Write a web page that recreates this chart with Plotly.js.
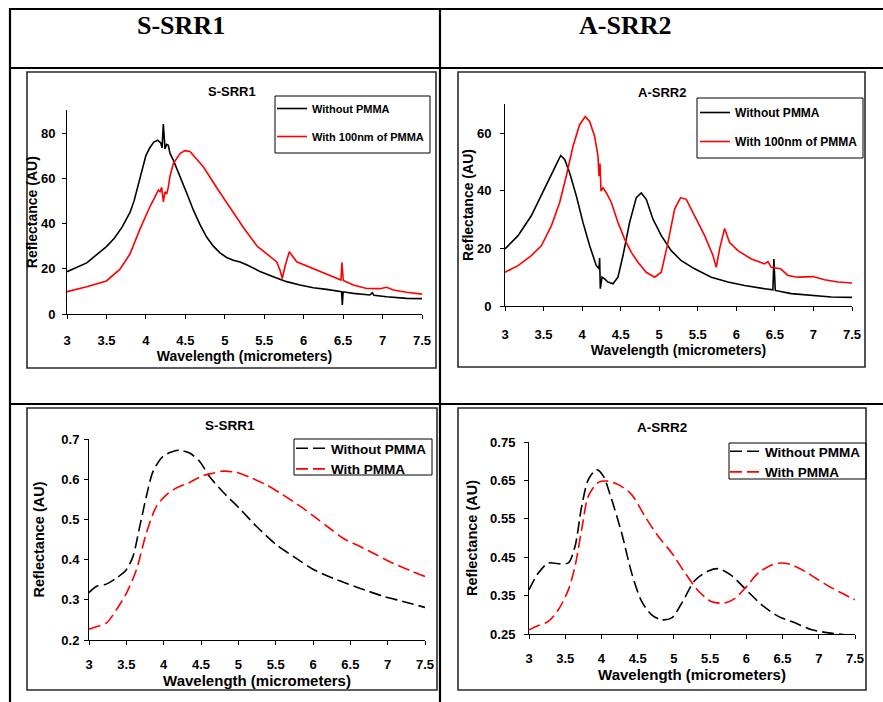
<!DOCTYPE html>
<html>
<head>
<meta charset="utf-8">
<script src="https://cdn.plot.ly/plotly-3.0.1.min.js"></script>
<style>
html,body{margin:0;padding:0;background:#fff;}
#chart{width:883px;height:702px;}
</style>
</head>
<body>
<div id="chart"></div>
<script>
// ---------- Data ----------
// Top-left: S-SRR1 measured reflectance (AU)
const ssrr1_meas_without_x = [3.0,3.25,3.5,3.6,3.7,3.8,3.85,3.9,3.95,4.0,4.05,4.1,4.15,4.19,4.205,4.221,4.242,4.263,4.284,4.306,4.348,4.432,4.517,4.601,4.686,4.77,4.855,4.939,5.024,5.108,5.193,5.277,5.362,5.446,5.615,5.784,5.953,6.122,6.291,6.481,6.49,6.5,6.629,6.84,6.87,6.89,7.052,7.305,7.5];
const ssrr1_meas_without_y = [18.7,22.6,29.8,33.5,38.5,45,50,57,64,70,73.5,76,76.8,75.5,73.5,84,73,75,74.6,71,68,61,53.5,46,39.5,34,30,27,25,23.8,23,21.8,20.2,18.8,16.5,14.3,12.8,11.6,10.9,9.9,4,9.8,9.1,8.4,9.4,8.3,7.6,6.9,6.8];
const ssrr1_meas_with_x = [3.0,3.25,3.5,3.672,3.798,3.925,4.052,4.158,4.179,4.2,4.221,4.242,4.263,4.284,4.306,4.348,4.432,4.496,4.559,4.643,4.73,4.9,5.07,5.24,5.41,5.573,5.657,5.7,5.729,5.763,5.818,5.911,6.038,6.207,6.376,6.473,6.485,6.502,6.629,6.798,6.967,7.052,7.136,7.305,7.5];
const ssrr1_meas_with_y = [9.9,12,14.6,19.8,26.5,37.5,47.5,54.8,54,56,49.6,54,53,56,61,66.5,70.9,72.2,71.8,68.7,65,55.7,46.8,38,30,25.3,23.1,19.4,15.7,21,27.5,23.1,21.3,18.7,16.2,15,22.8,14.8,12.8,11.3,11.2,11.8,10.6,9.6,8.8];

// Top-right: A-SRR2 measured reflectance (AU)
const asrr2_meas_without_x = [3.0,3.169,3.341,3.514,3.644,3.722,3.774,3.838,3.925,4.011,4.098,4.184,4.219,4.227,4.236,4.258,4.292,4.335,4.4,4.465,4.53,4.616,4.703,4.767,4.832,4.919,5.027,5.156,5.286,5.459,5.675,5.891,6.107,6.366,6.474,6.487,6.505,6.712,6.972,7.231,7.5];
const asrr2_meas_without_y = [19.8,24.4,31.3,40.5,47.9,52.2,50.8,46.2,38.2,29,20.9,14,12.9,16.6,6,10,9.4,8.3,7.7,10,17.5,29,37.6,39.2,37,30.1,24.4,19.2,15.7,12.9,10,8.3,7.1,6,5.6,16.3,5.4,4.3,3.7,3.1,3];
const asrr2_meas_with_x = [3.0,3.169,3.341,3.471,3.601,3.709,3.795,3.882,3.968,4.041,4.098,4.162,4.206,4.219,4.232,4.245,4.271,4.314,4.379,4.465,4.551,4.638,4.724,4.832,4.94,5.027,5.113,5.2,5.277,5.351,5.459,5.589,5.697,5.74,5.783,5.848,5.913,6.021,6.194,6.366,6.41,6.453,6.574,6.669,6.799,6.993,7.144,7.317,7.5];
const asrr2_meas_with_y = [11.7,14,17.5,20.9,27.8,35.9,45.1,55.4,62.9,65.7,64,58.9,52,45,49.4,39.9,41,39.3,35.9,29,23.2,18.6,15.2,11.7,10,11.7,22,33.6,37.6,37,31.3,24.4,17.5,13.4,19.8,26.9,22,19.2,16.3,14.6,15.4,13.4,12.9,10.6,10,10.2,9.1,8.3,8];

// Bottom-left: S-SRR1 simulated reflectance (AU)
const ssrr1_sim_without_x = [3.0,3.098,3.232,3.366,3.5,3.589,3.679,3.768,3.857,3.991,4.125,4.214,4.348,4.482,4.616,4.795,5.018,5.241,5.509,5.777,6.0,6.313,6.625,6.938,7.205,7.5];
const ssrr1_sim_without_y = [0.318,0.333,0.339,0.354,0.375,0.408,0.482,0.557,0.619,0.657,0.669,0.672,0.665,0.644,0.606,0.568,0.527,0.483,0.437,0.403,0.376,0.35,0.329,0.309,0.296,0.281];
const ssrr1_sim_with_x = [3.0,3.098,3.232,3.366,3.5,3.634,3.768,3.902,4.036,4.17,4.348,4.527,4.661,4.795,4.973,5.152,5.375,5.598,5.866,6.045,6.223,6.402,6.625,6.848,7.071,7.295,7.5];
const ssrr1_sim_with_y = [0.227,0.233,0.242,0.275,0.316,0.374,0.466,0.532,0.561,0.578,0.592,0.609,0.615,0.62,0.617,0.605,0.586,0.561,0.528,0.503,0.478,0.453,0.433,0.412,0.391,0.373,0.358];

// Bottom-right: A-SRR2 simulated reflectance (AU)
const asrr2_sim_without_x = [3.0,3.129,3.267,3.405,3.543,3.635,3.727,3.819,3.934,4.026,4.141,4.279,4.417,4.555,4.693,4.832,4.97,5.108,5.292,5.476,5.614,5.798,5.982,6.212,6.442,6.672,6.902,7.133,7.363,7.5];
const asrr2_sim_without_y = [0.365,0.409,0.435,0.433,0.435,0.478,0.582,0.652,0.678,0.661,0.6,0.513,0.409,0.335,0.3,0.287,0.292,0.33,0.39,0.414,0.42,0.402,0.368,0.326,0.296,0.279,0.261,0.253,0.248,0.242];
const asrr2_sim_with_x = [3.0,3.129,3.267,3.405,3.543,3.635,3.727,3.819,3.957,4.095,4.233,4.417,4.601,4.786,4.97,5.154,5.338,5.522,5.706,5.844,5.982,6.166,6.35,6.488,6.626,6.81,6.995,7.179,7.363,7.5];
const asrr2_sim_with_y = [0.261,0.272,0.283,0.313,0.365,0.426,0.522,0.609,0.645,0.648,0.639,0.613,0.556,0.504,0.461,0.409,0.362,0.334,0.331,0.343,0.369,0.409,0.43,0.435,0.43,0.413,0.391,0.37,0.352,0.339];

// Tick values and labels
const xTickVals = [3, 3.5, 4, 4.5, 5, 5.5, 6, 6.5, 7, 7.5];
const xTickLabels = ['3', '3.5', '4', '4.5', '5', '5.5', '6', '6.5', '7', '7.5'];
const yTickVals1 = [0, 20, 40, 60, 80];
const yTickLabels1 = ['0', '20', '40', '60', '80'];
const yTickVals2 = [0, 20, 40, 60];
const yTickLabels2 = ['0', '20', '40', '60'];
const yTickVals3 = [0.2, 0.3, 0.4, 0.5, 0.6, 0.7];
const yTickLabels3 = ['0.2', '0.3', '0.4', '0.5', '0.6', '0.7'];
const yTickVals4 = [0.25, 0.35, 0.45, 0.55, 0.65, 0.75];
const yTickLabels4 = ['0.25', '0.35', '0.45', '0.55', '0.65', '0.75'];

// Text
const headerTitles = ['S-SRR1', 'A-SRR2'];
const chartTitles = ['S-SRR1', 'A-SRR2', 'S-SRR1', 'A-SRR2'];
const xTitle = 'Wavelength (micrometers)';
const yTitle = 'Reflectance (AU)';
const legendTop = ['Without PMMA', 'With 100nm of PMMA'];
const legendBottom = ['Without PMMA', 'With PMMA'];

// ---------- Layout helpers ----------
const W = 883, H = 702;
const px = v => v / W;
const py = v => 1 - v / H;
const FONT = 'Arial, "Liberation Sans", sans-serif';
const B = s => '<b>' + s + '</b>';

function xaxisCfg(x0, x1, anchor, tickSize, titleSize, standoff, lblOff) {
  return {
    domain: [px(x0), px(x1)], anchor: anchor, range: [3, 7.5],
    tickmode: 'array', tickvals: xTickVals, ticktext: xTickLabels.map(B),
    showline: true, linecolor: 'black', linewidth: 1, ticks: 'outside', ticklen: 4,
    tickcolor: 'black', showgrid: false, zeroline: false, ticklabelstandoff: lblOff,
    tickfont: {family: FONT, size: tickSize, color: 'black'},
    title: {text: B(xTitle), standoff: standoff, font: {family: FONT, size: titleSize, color: 'black'}}
  };
}
function yaxisCfg(y0, y1, anchor, range, vals, labels, tickSize, titleSize, standoff, lblOff) {
  return {
    domain: [py(y1), py(y0)], anchor: anchor, range: range,
    tickmode: 'array', tickvals: vals, ticktext: labels.map(B),
    showline: true, linecolor: 'black', linewidth: 1, ticks: 'outside', ticklen: 4,
    tickcolor: 'black', showgrid: false, zeroline: false, ticklabelstandoff: lblOff,
    tickfont: {family: FONT, size: tickSize, color: 'black'},
    title: {text: B(yTitle), standoff: standoff, font: {family: FONT, size: titleSize, color: 'black'}}
  };
}
function legendCfg(right, top, size, gap) {
  return {
    x: px(right), xanchor: 'right', y: py(top), yanchor: 'top',
    bgcolor: 'rgba(0,0,0,0)', borderwidth: 0, tracegroupgap: gap,
    font: {family: FONT, size: size, color: 'black'}
  };
}

const solidW = 1.6, dashW = 1.6, DASH = '12px,5px';
const traces = [
  {x: ssrr1_meas_without_x, y: ssrr1_meas_without_y, name: B(legendTop[0]), xaxis: 'x', yaxis: 'y', legend: 'legend', legendgroup: 'a1', mode: 'lines', line: {color: 'black', width: solidW}},
  {x: ssrr1_meas_with_x, y: ssrr1_meas_with_y, name: B(legendTop[1]), xaxis: 'x', yaxis: 'y', legend: 'legend', legendgroup: 'a2', mode: 'lines', line: {color: '#ff0000', width: solidW}},
  {x: asrr2_meas_without_x, y: asrr2_meas_without_y, name: B(legendTop[0]), xaxis: 'x2', yaxis: 'y2', legend: 'legend2', legendgroup: 'b1', mode: 'lines', line: {color: 'black', width: solidW}},
  {x: asrr2_meas_with_x, y: asrr2_meas_with_y, name: B(legendTop[1]), xaxis: 'x2', yaxis: 'y2', legend: 'legend2', legendgroup: 'b2', mode: 'lines', line: {color: '#ff0000', width: solidW}},
  {x: ssrr1_sim_without_x, y: ssrr1_sim_without_y, name: B(legendBottom[0]), xaxis: 'x3', yaxis: 'y3', legend: 'legend3', legendgroup: 'c1', mode: 'lines', line: {color: 'black', width: dashW, dash: DASH, shape: 'spline', smoothing: 0.8}},
  {x: ssrr1_sim_with_x, y: ssrr1_sim_with_y, name: B(legendBottom[1]), xaxis: 'x3', yaxis: 'y3', legend: 'legend3', legendgroup: 'c2', mode: 'lines', line: {color: '#ff0000', width: dashW, dash: DASH, shape: 'spline', smoothing: 0.8}},
  {x: asrr2_sim_without_x, y: asrr2_sim_without_y, name: B(legendBottom[0]), xaxis: 'x4', yaxis: 'y4', legend: 'legend4', legendgroup: 'd1', mode: 'lines', line: {color: 'black', width: dashW, dash: DASH, shape: 'spline', smoothing: 0.8}},
  {x: asrr2_sim_with_x, y: asrr2_sim_with_y, name: B(legendBottom[1]), xaxis: 'x4', yaxis: 'y4', legend: 'legend4', legendgroup: 'd2', mode: 'lines', line: {color: '#ff0000', width: dashW, dash: DASH, shape: 'spline', smoothing: 0.8}}
];

const lineShape = (x0, y0, x1, y1, w, c) => ({type: 'line', xref: 'paper', yref: 'paper', x0: px(x0), y0: py(y0), x1: px(x1), y1: py(y1), line: {color: c || 'black', width: w}, layer: 'above'});
const boxShape = (x0, y0, x1, y1, c, w) => ({type: 'rect', xref: 'paper', yref: 'paper', x0: px(x0), y0: py(y0), x1: px(x1), y1: py(y1), line: {color: c || '#2a2a2a', width: w || 1.6}, fillcolor: 'rgba(0,0,0,0)', layer: 'below'});

const shapes = [
  // table grid
  lineShape(10, 8, 10, 702, 2.2),
  lineShape(9, 9, 883, 9, 2.2),
  lineShape(9, 68, 883, 68, 2.2),
  lineShape(9, 404, 883, 404, 2.2),
  lineShape(440, 9, 440, 702, 2.2),
  // chart area frames
  boxShape(27, 72, 436, 368),
  boxShape(458, 72, 865, 367),
  boxShape(27, 408, 437, 690),
  boxShape(458, 408, 866, 690),
  // legend frames
  boxShape(275, 96, 430, 153, 'black', 1),
  boxShape(697, 98, 863, 158, 'black', 1),
  boxShape(294, 439, 432, 475, 'black', 1),
  boxShape(729, 443, 866, 479, 'black', 1)
];

const ann = (text, x, y, size, family) => ({xref: 'paper', yref: 'paper', x: px(x), y: py(y), text: B(text), showarrow: false, xanchor: 'center', yanchor: 'middle', font: {family: family || FONT, size: size, color: 'black'}});
const annotations = [
  ann(headerTitles[0], 181, 26, 26, '"Liberation Serif", "Times New Roman", serif'),
  ann(headerTitles[1], 625, 26, 26, '"Liberation Serif", "Times New Roman", serif'),
  ann(chartTitles[0], 232, 91, 13),
  ann(chartTitles[1], 662, 92, 13),
  ann(chartTitles[2], 230, 426, 13.5),
  ann(chartTitles[3], 662, 427, 13.5)
];

const layout = {
  width: W, height: H, margin: {l: 0, r: 0, t: 0, b: 0},
  paper_bgcolor: 'white', plot_bgcolor: 'rgba(0,0,0,0)', showlegend: true,
  font: {family: FONT, color: 'black'},
  xaxis: xaxisCfg(67, 422, 'y', 13, 14, 2, 10),
  yaxis: yaxisCfg(110.4, 314, 'x', [0, 90], yTickVals1, yTickLabels1, 13, 14, 0, 4),
  xaxis2: xaxisCfg(505, 852, 'y2', 13, 14, 2, 12),
  yaxis2: yaxisCfg(104.2, 306, 'x2', [0, 70], yTickVals2, yTickLabels2, 13, 14, 0, 6),
  xaxis3: xaxisCfg(89, 425, 'y3', 13, 15, 0, 8),
  yaxis3: yaxisCfg(439, 640, 'x3', [0.2, 0.7], yTickVals3, yTickLabels3, 13, 14.5, 13, 2),
  xaxis4: xaxisCfg(529, 855, 'y4', 13, 15, 4, 8),
  yaxis4: yaxisCfg(442, 634, 'x4', [0.25, 0.75], yTickVals4, yTickLabels4, 13, 14.5, 9, 6),
  legend: legendCfg(429, 94, 11, 9),
  legend2: legendCfg(863, 98, 12, 10),
  legend3: legendCfg(432, 433, 13.5, 0),
  legend4: legendCfg(866, 436, 13.5, 0),
  shapes: shapes,
  annotations: annotations
};

Plotly.newPlot('chart', traces, layout, {displayModeBar: false, staticPlot: true});
</script>
</body>
</html>
